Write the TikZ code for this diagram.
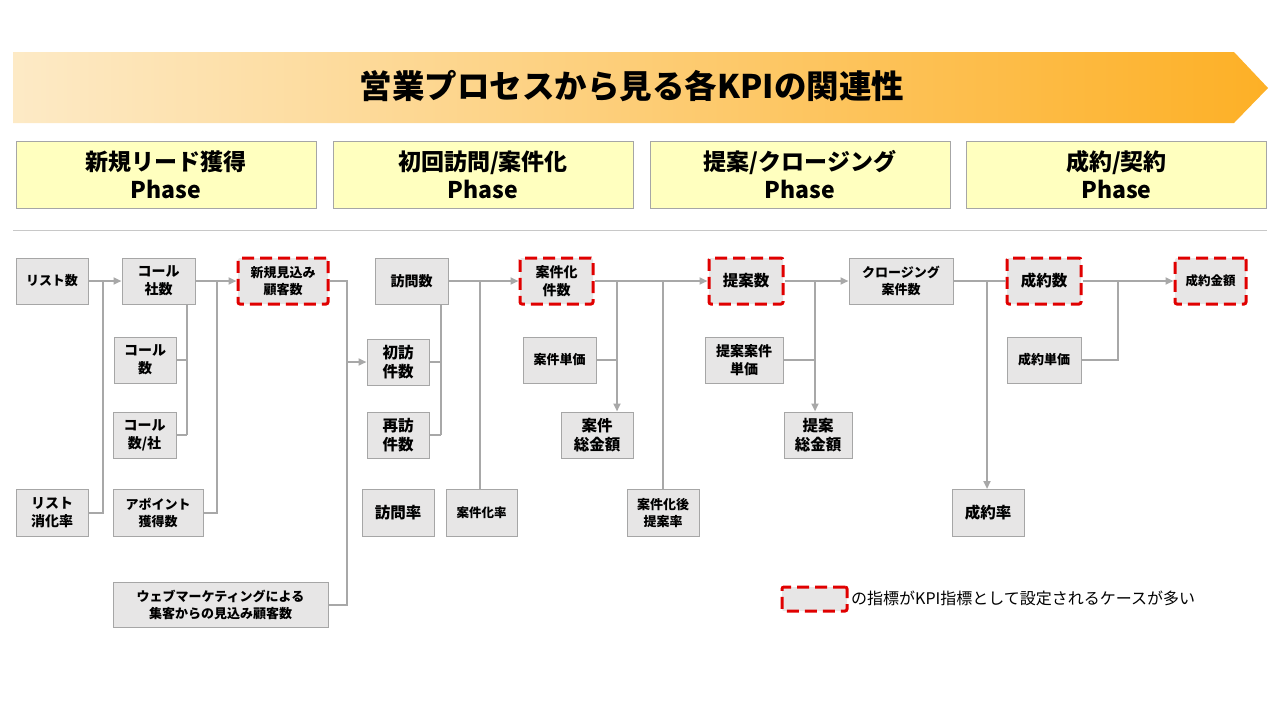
\documentclass[tikz,border=0pt]{standalone}
\usepackage{fontspec}
\setmainfont{Noto Sans CJK JP}
\usetikzlibrary{arrows.meta,positioning,calc}
\definecolor{boxgray}{RGB}{231,230,230}
\definecolor{edgegray}{RGB}{166,166,166}
\definecolor{linkgray}{RGB}{168,168,168}
\definecolor{kpired}{RGB}{224,0,0}
\definecolor{phaseyellow}{RGB}{255,255,191}
\definecolor{bannerlight}{RGB}{253,234,198}
\definecolor{bannerdark}{RGB}{253,176,38}
\definecolor{rulegray}{RGB}{200,200,200}
\tikzset{
  kpibox/.style={draw=edgegray,fill=boxgray,line width=1pt,minimum height=46pt,inner sep=0pt,align=center,font=\fontsize{13}{17}\selectfont\bfseries},
  keybox/.style={kpibox,draw=kpired,line width=3pt,dash pattern=on 12pt off 6pt,rounded corners=2pt},
  txtS/.style={font=\fontsize{12.5}{16}\selectfont\bfseries},
  txtM/.style={font=\fontsize{14}{18}\selectfont\bfseries},
  txtL/.style={font=\fontsize{15.5}{19}\selectfont\bfseries},
  phasebox/.style={draw=edgegray,fill=phaseyellow,line width=1pt,minimum width=300pt,minimum height=67pt,inner sep=0pt,align=center,font=\fontsize{23}{28}\selectfont\bfseries},
  link/.style={draw=linkgray,line width=2pt},
  arrow/.style={link,-{Triangle[length=8pt,width=7pt]}}
}
\begin{document}
\begin{tikzpicture}[x=1pt,y=-1pt]
\useasboundingbox (0,0) rectangle (1280,720);
% title banner
\shade[left color=bannerlight,right color=bannerdark] (13,52) -- (1234,52) -- (1268,88) -- (1234,123) -- (13,123) -- cycle;
\node[font=\fontsize{32.5}{38}\selectfont\bfseries] (title) at (632,86) {営業プロセスから見る各KPIの関連性};

% phase headers
\node[phasebox] (ph1) at (166,174.5) {新規リード獲得\\Phase};
\node[phasebox] (ph2) at (483,174.5) {初回訪問/案件化\\Phase};
\node[phasebox] (ph3) at (800,174.5) {提案/クロージング\\Phase};
\node[phasebox] (ph4) at (1116.5,174.5) {成約/契約\\Phase};
\coordinate (rl) at (13,230);
\coordinate (rr) at (1267,230);
\draw[rulegray,line width=1pt] (rl) -- (rr);

% lead phase
\node[kpibox,minimum width=72pt] (lst) at (52,281) {リスト数};
\node[kpibox,txtM,minimum width=73pt] (cs) at (158.5,281) {コール\\社数};
\node[keybox,minimum width=90pt] (nlead) at (283,281) {新規見込み\\顧客数};
\node[kpibox,txtM,minimum width=62pt] (cnum) at (145,360) {コール\\数};
\node[kpibox,txtM,minimum width=63pt] (cps) at (144.5,435) {コール\\数/社};
\node[kpibox,txtM,minimum width=72pt,minimum height=47pt] (lrate) at (52,513) {リスト\\消化率};
\node[kpibox,minimum width=90pt,minimum height=47pt] (appo) at (158,513) {アポイント\\獲得数};
\node[kpibox,minimum width=215pt,minimum height=45pt] (web) at (220.5,604.5) {ウェブマーケティングによる\\集客からの見込み顧客数};
\coordinate (j1) at (103,281);
\coordinate (j2) at (217,281);
\coordinate (j3) at (187,435);
\coordinate (j4) at (347,362);
\draw[arrow] (lst.east) -- (cs.west);
\draw[link] (lrate.east) -| (j1);
\draw[arrow] (cs.east) -- (nlead.west);
\draw[link] (appo.east) -| (j2);
\draw[link] (cs.south -| j3) -- (j3);
\draw[link] (cnum.east) -- (cnum.east -| j3);
\draw[link] (cps.east) -- (j3);
\draw[link] (nlead.east) -| (j4);
\draw[link] (web.east) -| (j4);

% visit phase
\node[kpibox,txtM,minimum width=73pt] (visit) at (411.5,281) {訪問数};
\node[kpibox,txtL,minimum width=62pt] (first) at (398,362) {初訪\\件数};
\node[kpibox,txtL,minimum width=62pt] (revisit) at (398,435) {再訪\\件数};
\node[kpibox,txtL,minimum width=72pt,minimum height=47pt] (vrate) at (398,513) {訪問率};
\node[kpibox,txtS,minimum width=71pt,minimum height=47pt] (crate) at (481.5,513) {案件化率};
\node[keybox,txtM,minimum width=73pt] (cases) at (556.5,281) {案件化\\件数};
\node[kpibox,minimum width=73pt] (cprice) at (559.5,360) {案件単価};
\node[kpibox,txtL,minimum width=72pt] (ctotal) at (597,435) {案件\\総金額};
\coordinate (j5) at (441,435);
\coordinate (j6) at (480,281);
\coordinate (j7) at (617,281);
\draw[arrow] (j4) -- (first.west);
\draw[arrow] (visit.east) -- (cases.west);
\draw[link] (visit.south -| j5) -- (j5);
\draw[link] (first.east) -- (first.east -| j5);
\draw[link] (revisit.east) -- (j5);
\draw[link] (crate.north -| j6) -- (j6);
\draw[arrow] (j7) -- (j7 |- ctotal.north);
\draw[link] (cprice.east) -- (cprice.east -| j7);

% proposal phase
\node[kpibox,minimum width=72pt,minimum height=47pt] (prate) at (663,513) {案件化後\\提案率};
\node[keybox,txtL,minimum width=74pt] (props) at (746,281) {提案数};
\node[kpibox,txtM,minimum width=78pt] (pprice) at (744,360) {提案案件\\単価};
\node[kpibox,txtL,minimum width=68pt] (ptotal) at (818,435) {提案\\総金額};
\node[kpibox,minimum width=104pt] (closing) at (901,281) {クロージング\\案件数};
\coordinate (j8) at (663,281);
\coordinate (j9) at (815,281);
\draw[arrow] (cases.east) -- (props.west);
\draw[link] (prate.north) -- (j8);
\draw[arrow] (props.east) -- (closing.west);
\draw[arrow] (j9) -- (j9 |- ptotal.north);
\draw[link] (pprice.east) -- (pprice.east -| j9);

% contract phase
\node[keybox,txtL,minimum width=74pt] (deals) at (1044,281) {成約数};
\node[kpibox,minimum width=74pt] (dprice) at (1044,360) {成約単価};
\node[kpibox,txtL,minimum width=72pt,minimum height=47pt] (drate) at (988,513) {成約率};
\node[keybox,txtS,minimum width=71pt] (damount) at (1210.5,281) {成約金額};
\coordinate (j10) at (987,281);
\coordinate (j11) at (1118,281);
\draw[link] (closing.east) -- (deals.west);
\draw[arrow] (j10) -- (j10 |- drate.north);
\draw[arrow] (deals.east) -- (damount.west);
\draw[link] (dprice.east) -| (j11);

% legend
\node[keybox,minimum width=65pt,minimum height=24pt] (key) at (814.5,599) {};
\node[anchor=west,inner sep=0pt,font=\fontsize{16}{19}\selectfont] (keytxt) at (851,598) {の指標がKPI指標として設定されるケースが多い};
\end{tikzpicture}
\end{document}
